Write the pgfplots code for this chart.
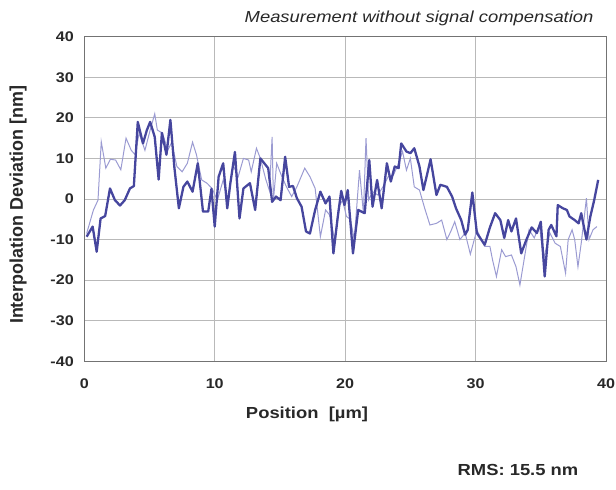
\documentclass[border=0pt]{standalone}
\usepackage{pgfplots}
\pgfplotsset{compat=1.18}
\usepackage{fontspec}
\setmainfont{Liberation Sans}
\usepackage{graphicx}
\newcommand{\sx}[1]{\scalebox{1.15}[1]{#1}}
\definecolor{darkline}{RGB}{70,70,158}
\definecolor{lightline}{RGB}{155,155,210}
\definecolor{gridc}{RGB}{185,185,185}
\definecolor{txt}{RGB}{40,40,40}
\begin{document}
\begin{tikzpicture}
\useasboundingbox (0pt,0pt) rectangle (616pt,490pt);
\begin{axis}[at={(84.3pt,128.7pt)}, anchor=south west, scale only axis,
  width=521.7pt, height=324.6pt,
  xmin=0, xmax=40, ymin=-40, ymax=40,
  xtick={0,10,20,30,40}, ytick={-40,-30,-20,-10,0,10,20,30,40},
  grid=major, major grid style={gridc, line width=0.9pt},
  axis line style={black!55, line width=0.9pt},
  major tick length=0pt,
  tick label style={font=\fontsize{14}{16}\selectfont\bfseries, text=txt},
  xticklabel={\sx{\pgfmathprintnumber[assume math mode=true]{\tick}}},
  yticklabel={\sx{\pgfmathprintnumber[assume math mode=true]{\tick}}},
  xticklabel style={yshift=-14pt},
  yticklabel style={xshift=-7pt},
  clip=true,
]
\addplot[lightline, line width=1pt] coordinates {
(0.18,-8.5)(0.7,-2.7)(1.05,-0.3)(1.3,14.1)(1.65,7.6)(2.0,9.8)(2.4,9.6)(2.8,7.2)
(3.2,15)(3.6,12)(3.9,10.9)(4.2,16.2)(4.65,12)(5.05,17)(5.4,21)(5.6,17)(6.0,16.2)
(6.4,12)(6.7,14)(7.1,8)(7.5,6.7)(7.9,8.8)(8.3,14)(8.6,10.9)(9.0,4.7)(9.4,3.9)
(9.8,2.6)(10.2,-0.3)(10.65,4.7)(11.0,-0.3)(11.4,8.4)(11.8,5.5)(12.2,10)(12.6,9.6)
(12.8,6.7)(13.2,12.5)(13.5,10)(13.9,5)(14.2,2)(14.4,15.3)(14.5,-0.3)(14.75,8.8)
(15.1,5.9)(15.5,3)(15.9,0.6)(16.3,3)(16.9,7.6)(17.3,5.5)(17.7,2.6)(18.1,-9.3)
(18.5,-2.7)(18.8,-3.9)(19.2,-10)(19.5,-2)(19.8,-0.3)(20.1,-4.3)(20.4,-5)(20.7,-10)
(21.1,7.1)(21.4,-3.5)(21.6,15)(21.8,-0.2)(22.1,1.8)(22.5,1)(22.9,3)(23.3,5.5)
(23.7,5.9)(24.1,8.8)(24.4,11.7)(24.7,7.1)(25.0,10)(25.3,3)(25.7,2.2)(26.1,-2.3)
(26.5,-6.4)(27.0,-6)(27.4,-5.2)(27.8,-10)(28.1,-8)(28.4,-5.6)(28.8,-10)(29.2,-8.4)
(29.6,-13.6)(30.1,-7.6)(30.7,-11.7)(31.1,-11.7)(31.3,-15)(31.6,-19.1)(32.0,-12.5)
(32.3,-14.2)(32.75,-13.8)(33.1,-16.7)(33.4,-21.2)(33.8,-13.4)(34.1,-7.6)(34.5,-9.6)
(34.9,-6.4)(35.2,-15)(35.7,-8.4)(36.1,-10.9)(36.5,-11.7)(36.9,-18.3)(37.1,-10)
(37.4,-7.6)(37.6,-10)(37.85,-16.7)(38.1,-10.9)(38.5,0.2)(38.7,-10)(39.0,-7.6)(39.3,-6.8)
};
\addplot[darkline, line width=2.3pt, line join=round] coordinates {
(0.18,-9.3)(0.64,-6.8)(0.95,-13)(1.25,-4.8)(1.6,-4.2)(1.97,2.6)(2.35,-0.3)(2.74,-1.6)
(3.1,-0.3)(3.5,2.6)(3.8,3.2)(4.1,19)(4.5,13.7)(4.8,17)(5.05,19)(5.4,15.3)(5.7,4.8)
(5.95,16.3)(6.3,10.9)(6.6,19.5)(6.9,8)(7.25,-2.3)(7.6,3)(7.9,4.3)(8.3,1.8)(8.7,8.8)
(9.1,-3.1)(9.5,-3.1)(9.75,2.5)(10.0,-6.8)(10.3,5.5)(10.65,8.8)(10.96,-2.3)(11.2,3.9)
(11.55,11.6)(11.9,-4.8)(12.2,2.6)(12.7,3.9)(13.1,-2.7)(13.5,10)(13.8,8.8)(14.1,7.6)
(14.4,-0.7)(14.7,0.6)(15.05,-0.3)(15.4,10.4)(15.7,3)(16.0,3.2)(16.3,0.2)(16.66,-1.9)
(17.0,-8)(17.3,-8.5)(17.7,-2.7)(18.1,1.8)(18.5,-1.1)(18.8,0.6)(19.1,-13.4)(19.45,-4)
(19.7,2)(19.95,-1.5)(20.2,2.2)(20.6,-13.4)(21.0,-2.7)(21.5,-3.5)(21.85,9.6)(22.1,-1.9)
(22.45,4.7)(22.8,-2.3)(23.2,8.8)(23.5,4.3)(23.8,8)(24.1,7.6)(24.3,13.7)(24.7,11.7)
(25.0,11.3)(25.3,12.5)(25.7,8)(26.0,2.2)(26.3,6.3)(26.55,9.8)(27.0,1.0)(27.3,3.5)
(27.8,3)(28.2,0.6)(28.5,-2.3)(28.9,-5.2)(29.2,-8.8)(29.4,-7.6)(29.75,1.6)(30.1,-8.4)
(30.7,-11.3)(31.1,-7)(31.5,-3.5)(31.9,-5.2)(32.2,-9.6)(32.5,-5.2)(32.75,-8)(33.1,-4.8)
(33.5,-13.4)(33.9,-10)(34.3,-7)(34.7,-8.4)(35.0,-5.6)(35.3,-19.1)(35.6,-7.6)(35.8,-6.4)
(36.2,-9.2)(36.3,-1.5)(36.7,-2.3)(37.0,-2.7)(37.2,-4.3)(37.6,-5.2)(37.9,-6)(38.1,-3.5)
(38.5,-10)(38.8,-4.3)(39.1,-0.2)(39.4,4.7)
};
\end{axis}
\node[font=\fontsize{16}{18}\selectfont\itshape, text=txt, anchor=east] at (597pt,472pt) {\sx{Measurement without signal compensation}};
\node[font=\fontsize{16}{18}\selectfont\bfseries, text=txt] at (307pt,76pt) {\sx{Position\ \ [µm]}};
\node[font=\fontsize{16}{18}\selectfont\bfseries, text=txt, rotate=90] at (18pt,285pt) {\scalebox{1.12}[1.15]{Interpolation Deviation [nm]}};
\node[font=\fontsize{16}{18}\selectfont\bfseries, text=txt] at (518pt,20pt) {\sx{RMS: 15.5 nm}};
\end{tikzpicture}
\end{document}
